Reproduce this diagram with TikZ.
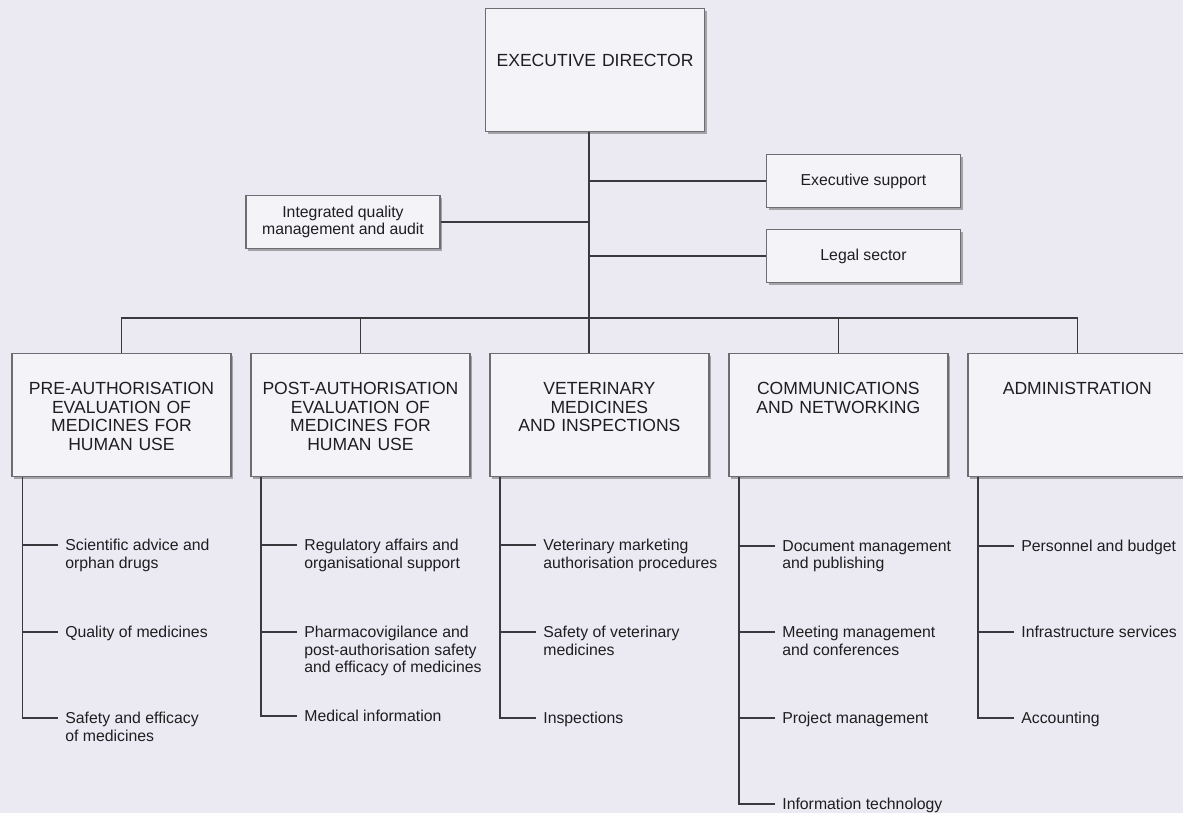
\documentclass[tikz,border=0pt]{standalone}
\usepackage{fontspec}
\setmainfont{Liberation Sans}
\usepackage{tikz}
\usetikzlibrary{shadows}
\definecolor{mybg}{HTML}{EBEAF2}
\definecolor{myfill}{HTML}{F4F3F8}
\definecolor{myline}{HTML}{3A3A3E}
\definecolor{myborder}{HTML}{6C6C72}
\definecolor{mytext}{HTML}{1E1E20}
\tikzstyle{block} = [rectangle, draw=myborder, fill=myfill, line width=0.8pt,
text=mytext, align=center, inner sep=0pt, text width=4.38cm,
text height=23.6pt, text depth=46.7pt, font=\fontsize{10}{10.6}\selectfont,
drop shadow={shadow xshift=1.4pt, shadow yshift=-1.4pt, fill=black, opacity=0.3}]
\tikzstyle{unit} = [rectangle, draw=myborder, fill=myfill, line width=0.8pt,
text=mytext, align=center, minimum width=3.88cm, minimum height=1.06cm,
font=\fontsize{9}{10}\selectfont,
drop shadow={shadow xshift=1.2pt, shadow yshift=-1.2pt, fill=black, opacity=0.3}]
\tikzstyle{item} = [anchor=north west, align=left, inner sep=0pt, text=mytext,
xshift=0.14cm, yshift=3.4pt, font=\fontsize{9}{10}\selectfont]
\tikzstyle{line} = [draw=myline, line width=0.9pt]

\begin{document}
\begin{tikzpicture}[x=0.02cm, y=-0.02cm, node distance=4.78cm]
    \fill[mybg] (0,0) rectangle (1183,813);
    \useasboundingbox (0,0) rectangle (1183,813);

    % Nodes
    \node [block, text height=33pt, text depth=37.3pt] (ed) at (595,70) {EXECUTIVE DIRECTOR};
    \node [unit] (sup) at (863.5,181) {Executive support};
    \node [unit] (leg) at (863.5,256) {Legal sector};
    \node [unit] (iqm) at (343,222) {Integrated quality\\management and audit};

    \node [block] (pre) at (121.5,415) {PRE-AUTHORISATION\\EVALUATION OF\\MEDICINES FOR\\HUMAN USE};
    \node [block, right of=pre] (post) {POST-AUTHORISATION\\EVALUATION OF\\MEDICINES FOR\\HUMAN USE};
    \node [block, right of=post] (vet) {VETERINARY\\MEDICINES\\AND INSPECTIONS};
    \node [block, right of=vet] (com) {COMMUNICATIONS\\AND NETWORKING};
    \node [block, right of=com] (adm) {ADMINISTRATION};

    % tick ends of the units
    \coordinate (sci-t) at (58,545);
    \coordinate (qua-t) at (58,632);
    \coordinate (saf-t) at (58,718);
    \coordinate (reg-t) at (297,545);
    \coordinate (pha-t) at (297,632);
    \coordinate (med-t) at (297,716);
    \coordinate (vmp-t) at (536,545);
    \coordinate (svm-t) at (536,632);
    \coordinate (ins-t) at (536,718);
    \coordinate (doc-t) at (775,546);
    \coordinate (mee-t) at (775,632);
    \coordinate (prj-t) at (775,718);
    \coordinate (ict-t) at (775,804);
    \coordinate (per-t) at (1014,546);
    \coordinate (inf-t) at (1014,632);
    \coordinate (acc-t) at (1014,718);

    \node [item] (sci) at (sci-t) {Scientific advice and\\orphan drugs};
    \node [item] (qua) at (qua-t) {Quality of medicines};
    \node [item] (saf) at (saf-t) {Safety and efficacy\\of medicines};
    \node [item] (reg) at (reg-t) {Regulatory affairs and\\organisational support};
    \node [item] (pha) at (pha-t) {Pharmacovigilance and\\post-authorisation safety\\and efficacy of medicines};
    \node [item] (med) at (med-t) {Medical information};
    \node [item] (vmp) at (vmp-t) {Veterinary marketing\\authorisation procedures};
    \node [item] (svm) at (svm-t) {Safety of veterinary\\medicines};
    \node [item] (ins) at (ins-t) {Inspections};
    \node [item] (doc) at (doc-t) {Document management\\and publishing};
    \node [item] (mee) at (mee-t) {Meeting management\\and conferences};
    \node [item] (prj) at (prj-t) {Project management};
    \node [item] (ict) at (ict-t) {Information technology};
    \node [item] (per) at (per-t) {Personnel and budget};
    \node [item] (inf) at (inf-t) {Infrastructure services};
    \node [item] (acc) at (acc-t) {Accounting};

    % top of the lines under the divisions
    \coordinate (pre-x) at ([xshift=0.22cm]pre.south west);
    \coordinate (post-x) at ([xshift=0.22cm]post.south west);
    \coordinate (vet-x) at ([xshift=0.22cm]vet.south west);
    \coordinate (com-x) at ([xshift=0.22cm]com.south west);
    \coordinate (adm-x) at ([xshift=0.22cm]adm.south west);
    \coordinate (bus) at (589,318);

    % lines
    \draw[line] (ed.south -| bus) -- (vet.north -| bus);
    \draw[line] (sup.west) -- (sup.west -| bus);
    \draw[line] (leg.west) -- (leg.west -| bus);
    \draw[line] (iqm.east) -- (iqm.east -| bus);
    \draw[line] (pre.north) |- (bus) -| (adm.north);
    \draw[line] (post.north) -- (post.north |- bus);
    \draw[line] (com.north) -- (com.north |- bus);

    \draw[line] (pre-x) |- (saf-t);
    \draw[line] (sci-t) -- (sci-t -| pre-x);
    \draw[line] (qua-t) -- (qua-t -| pre-x);
    \draw[line] (post-x) |- (med-t);
    \draw[line] (reg-t) -- (reg-t -| post-x);
    \draw[line] (pha-t) -- (pha-t -| post-x);
    \draw[line] (vet-x) |- (ins-t);
    \draw[line] (vmp-t) -- (vmp-t -| vet-x);
    \draw[line] (svm-t) -- (svm-t -| vet-x);
    \draw[line] (com-x) |- (ict-t);
    \draw[line] (doc-t) -- (doc-t -| com-x);
    \draw[line] (mee-t) -- (mee-t -| com-x);
    \draw[line] (prj-t) -- (prj-t -| com-x);
    \draw[line] (adm-x) |- (acc-t);
    \draw[line] (per-t) -- (per-t -| adm-x);
    \draw[line] (inf-t) -- (inf-t -| adm-x);

\end{tikzpicture}
\end{document}
